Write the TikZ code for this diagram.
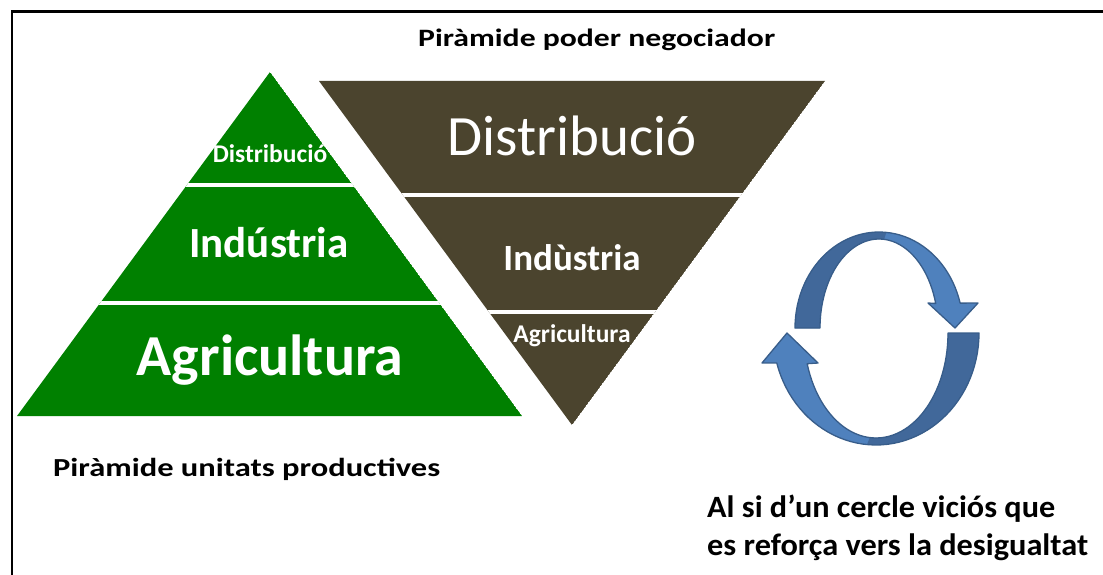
\documentclass[tikz,border=0pt]{standalone}
\usepackage{fontspec}
\setmainfont{Carlito}
\definecolor{pgreen}{RGB}{0,128,0}
\definecolor{pbrown}{RGB}{75,68,46}
\definecolor{alight}{RGB}{79,129,189}
\definecolor{adark}{RGB}{65,104,154}
\definecolor{aline}{RGB}{56,93,138}
\tikzset{
  lbl/.style={text=white, inner sep=0pt, anchor=base},
  ttl/.style={text=black, inner sep=0pt, font=\bfseries},
  gap/.style={white, line width=4pt},
  arrowlight/.style={fill=alight},
  arrowdark/.style={fill=adark},
  arrowline/.style={draw=aline, line width=1.3pt, line join=round},
}
\newcommand{\fsz}[1]{\fontsize{#1}{#1}\selectfont}
\newcommand{\wideto}[2]{\resizebox{#1}{\height}{#2}}
\begin{document}
\begin{tikzpicture}[x=1pt,y=-1pt]
\useasboundingbox (0,0) rectangle (1103,575);
% frame
\draw[line width=2.5pt] (11.8,576) -- (11.8,11.3) -- (1104,11.3);
% green pyramid
\begin{scope}
  \clip (270,72) -- (522,416) -- (17,416) -- cycle;
  \fill[pgreen] (270,72) -- (522,416) -- (17,416) -- cycle;
  \draw[gap] (0,185) -- (1103,185);
  \draw[gap] (0,303) -- (1103,303);
\end{scope}
% brown inverted pyramid
\begin{scope}
  \clip (319,81) -- (825,81) -- (572,425) -- cycle;
  \fill[pbrown] (319,81) -- (825,81) -- (572,425) -- cycle;
  \draw[gap] (0,195) -- (1103,195);
  \draw[gap] (0,312) -- (1103,312);
\end{scope}
% labels
\node[lbl, font=\bfseries\fsz{25.5}] (gd) at (270,163) {Distribució};
\node[lbl, font=\bfseries\fsz{43}] (gi) at (269,257) {Indústria};
\node[lbl, font=\bfseries\fsz{58}] (ga) at (270,375) {Agricultura};
\node[lbl, font=\fsz{57}] (bd) at (572,156) {Distribució};
\node[lbl, font=\bfseries\fsz{37}] (bi) at (572,270) {Indùstria};
\node[lbl, font=\bfseries\fsz{25.5}] (ba) at (572,342) {Agricultura};
% titles
\node[ttl, anchor=base west, font=\bfseries\fsz{25}] (t1) at (418,47) {\wideto{357pt}{Piràmide poder negociador}};
\node[ttl, anchor=base west, font=\bfseries\fsz{26}] (t2) at (53,476) {\wideto{387pt}{Piràmide unitats productives}};
\node[ttl, anchor=base west, font=\bfseries\fsz{31}] (t3) at (707,517) {\wideto{348pt}{Al si d’un cercle viciós que}};
\node[ttl, anchor=base west, font=\bfseries\fsz{31}] (t4) at (707,555) {\wideto{381pt}{es reforça vers la desigualtat}};
% upper circular arrow
\path[arrowlight] plot[domain=180:15, samples=50] ({879+84*cos(\x)},{328-96*sin(\x)})
  -- (978,303) -- (955,328) -- (928,303)
  -- plot[domain=16:180, samples=50] ({879+59*cos(\x)},{328-89*sin(\x)}) -- cycle;
\path[arrowdark] plot[domain=180:85, samples=40] ({879+84*cos(\x)},{328-96*sin(\x)})
  -- plot[domain=85:180, samples=40] ({879+59*cos(\x)},{328-89*sin(\x)}) -- cycle;
\path[arrowline] plot[domain=180:15, samples=50] ({879+84*cos(\x)},{328-96*sin(\x)})
  -- (978,303) -- (955,328) -- (928,303)
  -- plot[domain=16:180, samples=50] ({879+59*cos(\x)},{328-89*sin(\x)}) -- cycle;
% lower circular arrow
\path[arrowlight] plot[domain=0:-164.5, samples=50] ({876+103*cos(\x)},{333-112*sin(\x)})
  -- (762,363) -- (787,333) -- (818,363)
  -- plot[domain=-163:0, samples=50] ({876+72*cos(\x)},{333-105*sin(\x)}) -- cycle;
\path[arrowdark] plot[domain=0:-95, samples=40] ({876+103*cos(\x)},{333-112*sin(\x)})
  -- plot[domain=-95:0, samples=40] ({876+72*cos(\x)},{333-105*sin(\x)}) -- cycle;
\path[arrowline] plot[domain=0:-164.5, samples=50] ({876+103*cos(\x)},{333-112*sin(\x)})
  -- (762,363) -- (787,333) -- (818,363)
  -- plot[domain=-163:0, samples=50] ({876+72*cos(\x)},{333-105*sin(\x)}) -- cycle;
\end{tikzpicture}
\end{document}
